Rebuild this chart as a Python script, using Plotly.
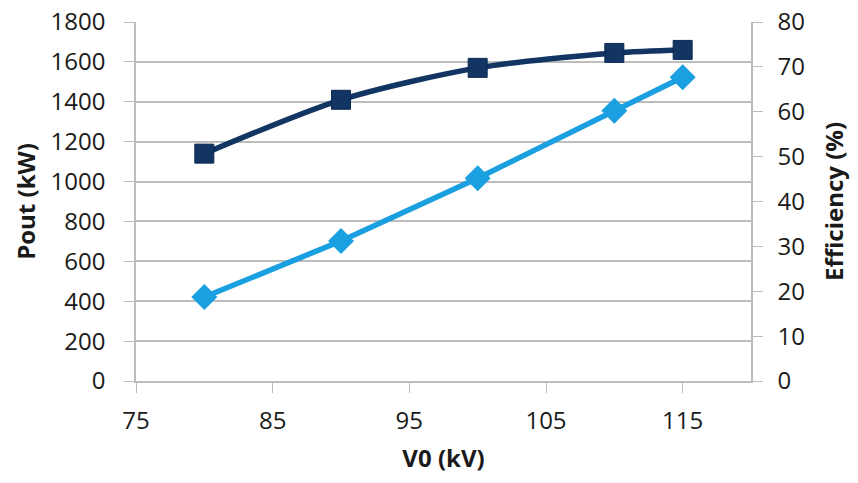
import plotly.graph_objects as go

v0_kv = [80, 90, 100, 110, 115]
pout_kw = [1140, 1410, 1570, 1645, 1660]
efficiency_pct = [18.7, 31.2, 45.2, 60.2, 67.7]

x_ticks = [75, 85, 95, 105, 115]

navy = "#123563"
light = "#1A9FE0"
grid = "#BDBDBD"
font_family = "Open Sans, Noto Sans, sans-serif"

fig = go.Figure()
fig.add_trace(go.Scatter(
    x=v0_kv, y=pout_kw, mode="lines+markers",
    line=dict(color=navy, width=5.5, shape="spline", smoothing=0.8),
    marker=dict(symbol="square", size=19, color=navy, line=dict(color="#0B2A52", width=1)),
    yaxis="y", showlegend=False,
))
fig.add_trace(go.Scatter(
    x=v0_kv, y=efficiency_pct, mode="lines+markers",
    line=dict(color=light, width=5.5),
    marker=dict(symbol="diamond", size=20, color=light),
    yaxis="y2", showlegend=False,
))

fig.update_layout(
    width=858, height=483,
    margin=dict(l=136, r=107, t=22, b=102, autoexpand=False),
    paper_bgcolor="white", plot_bgcolor="white",
    font=dict(family=font_family, size=24, color="#1a1a1a"),
    xaxis=dict(
        range=[75, 120], tickvals=x_ticks, ticks="outside", ticklen=10,
        tickcolor=grid, showline=True, linecolor=grid, linewidth=1.5,
        showgrid=False, zeroline=False, ticklabelstandoff=7, automargin=False,
        title=dict(text="<b>V0 (kV)</b>", font=dict(size=24), standoff=16),
    ),
    yaxis=dict(
        range=[0, 1800], dtick=200, ticks="outside", ticklen=10,
        tickcolor=grid, showline=True, linecolor=grid, linewidth=1.5,
        showgrid=True, gridcolor=grid, gridwidth=1.5, zeroline=False,
        ticklabelstandoff=14, automargin=False,
        title=dict(text="<b>Pout (kW)</b>", font=dict(size=24), standoff=8),
    ),
    yaxis2=dict(
        range=[0, 80], dtick=10, overlaying="y", side="right",
        ticks="outside", ticklen=10, tickcolor=grid,
        showline=True, linecolor=grid, linewidth=1.5,
        showgrid=False, zeroline=False, ticklabelstandoff=10, automargin=False,
        title=dict(text="<b>Efficiency (%)</b>", font=dict(size=24), standoff=22),
    ),
)

fig.write_html("out.html")
